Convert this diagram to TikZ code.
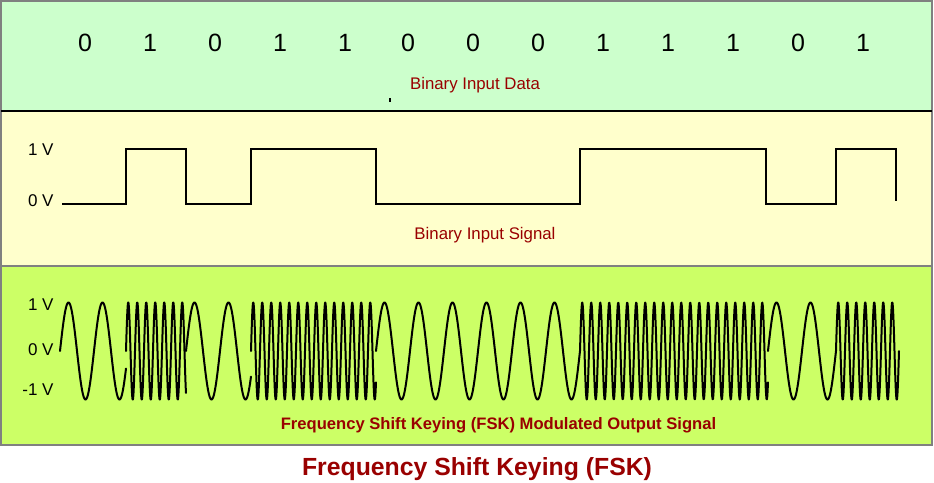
\documentclass[tikz,border=0pt]{standalone}
\usepackage{fontspec}
\setmainfont{Liberation Sans}
\usepackage{xcolor}
\definecolor{datagreen}{HTML}{CCFFCC}
\definecolor{siglight}{HTML}{FFFFCC}
\definecolor{fskgreen}{HTML}{CCFF66}
\definecolor{darkred}{HTML}{990000}
\definecolor{frame}{HTML}{808080}

\begin{document}
\begin{tikzpicture}[x=0.5pt,y=-0.5pt,
  sig/.style={color=black,line width=1pt,line join=miter},
  wave/.style={color=black,line width=1pt,line join=round,line cap=round,samples=500},
  bit/.style={anchor=base,inner sep=0,font=\fontsize{12.5}{14}\selectfont},
  volt/.style={anchor=base east,inner sep=0,font=\fontsize{8.5}{10}\selectfont},
  caption/.style={anchor=base,inner sep=0,text=darkred,font=\fontsize{8.4}{10}\selectfont}]
\useasboundingbox (0,0) rectangle (934,483);

% panels
\fill[datagreen] (1,1) rectangle (932,111);
\fill[siglight] (1,111) rectangle (932,266);
\fill[fskgreen] (1,266) rectangle (932,445);
\draw[frame,line width=0.8pt] (1,445) -- (1,1) -- (932,1) -- (932,445) -- cycle;
\draw[black,line width=0.6pt] (1,111) -- (932,111);
\draw[frame,line width=0.8pt] (1,266) -- (932,266);

% binary input data
\foreach \xx/\bb [count=\i] in {85/0,150/1,215/0,280/1,345/1,408/0,473/0,538/0,603/1,668/1,733/1,798/0,863/1}
  \node[bit] (d\i) at (\xx,51) {\bb};
\node[caption] (datalbl) at (475,89) {Binary Input Data};
\draw[black,line width=0.6pt] (390,98) -- (390,102);

% binary input signal
\node[volt] (hi) at (54,155) {1 V};
\node[volt] (lo) at (54,206) {0 V};
\draw[sig] (62,204) -- (126,204) -- (126,149) -- (186,149) -- (186,204) -- (251,204)
  -- (251,149) -- (376,149) -- (376,204) -- (580,204) -- (580,149) -- (766,149)
  -- (766,204) -- (836,204) -- (836,149) -- (896,149) -- (896,201);
\node[caption] (siglbl) at (485,239) {Binary Input Signal};

% fsk output
\node[volt] (fhi) at (54,310) {1 V};
\node[volt] (fzero) at (54,355) {0 V};
\node[volt] (flo) at (54,395) {-1 V};
\foreach \a/\b/\p in {60/126/34,126/186/9,186/251/34,251/376/9,376/580/34,580/768/9,768/836/34,836/899/9}
  \draw[wave,domain=\a:\b] plot (\x,{351-48.5*sin((\x-\a)/\p*360)});
\node[caption,font=\bfseries\fontsize{8.3}{10}\selectfont] (fsklbl) at (498.5,429)
  {Frequency Shift Keying (FSK) Modulated Output Signal};

% title
\node[caption,font=\bfseries\fontsize{12.4}{14}\selectfont] (title) at (477,475)
  {Frequency Shift Keying (FSK)};
\end{tikzpicture}
\end{document}
